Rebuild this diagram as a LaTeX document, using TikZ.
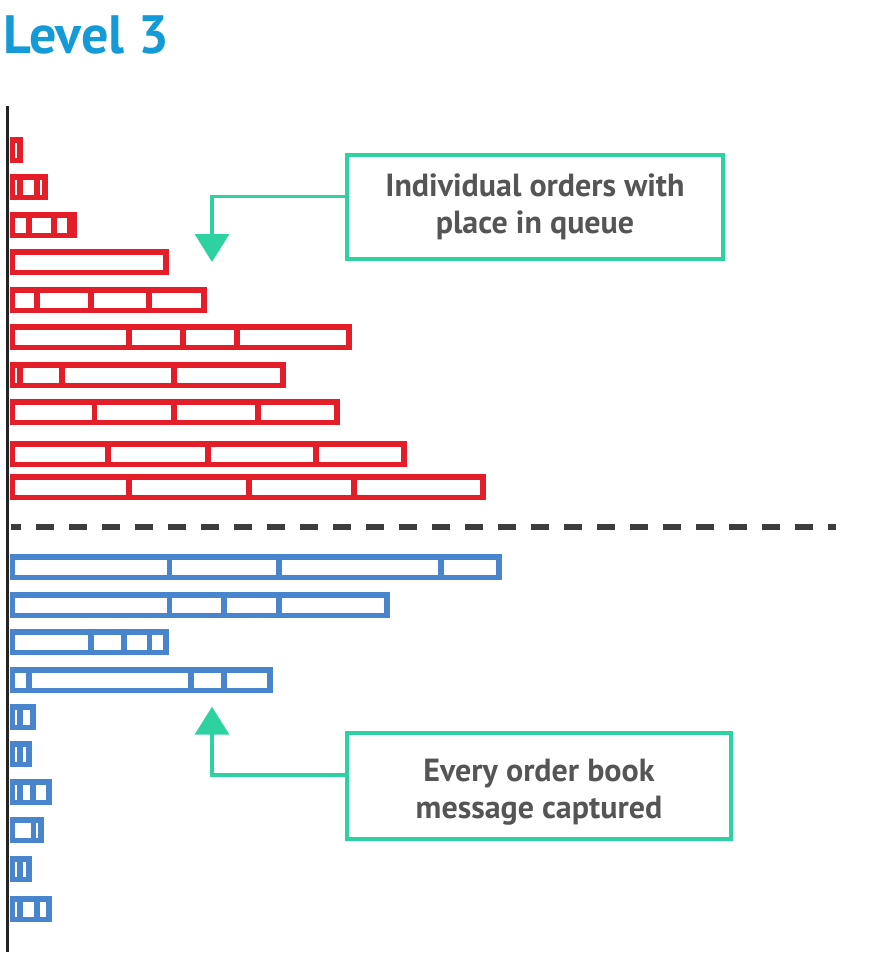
\documentclass[tikz,border=0pt]{standalone}
\usepackage{fontspec}
\setmainfont{PT Sans}
\usepackage{tikz}
\usetikzlibrary{arrows.meta,positioning,calc}
\definecolor{ordred}{RGB}{228,30,40}
\definecolor{ordblue}{RGB}{72,133,204}
\definecolor{callgreen}{RGB}{46,210,160}
\definecolor{txtgray}{RGB}{85,85,85}
\definecolor{titleblue}{RGB}{20,155,215}
\definecolor{axisdark}{RGB}{35,35,35}
\definecolor{dashgray}{RGB}{60,60,60}
\begin{document}
\begin{tikzpicture}
    [
      x=1pt, y=-1pt,
      ask cell/.style={draw=ordred, line width=5.5pt},
      bid cell/.style={draw=ordblue, line width=5.5pt},
      callout/.style={draw=callgreen, line width=4pt, align=center, text=txtgray,
        font=\bfseries\fontsize{32}{37.5}\selectfont},
      link/.style={draw=callgreen, line width=3.5pt, -{Triangle[width=34pt,length=28pt]}}
    ]
    \useasboundingbox (0,0) rectangle (870,969);
    \node (title) [anchor=base west, inner sep=0pt, text=titleblue,
      font=\bfseries\fontsize{54}{60}\selectfont] at (3,53.3) {Level 3};
    \draw [axisdark, line width=3.3pt] (7.7,106) -- (7.7,952);
    \foreach \t/\cells in {137/{12.7/20.2}, 174/{12.7/20,20/37.2,37.2/45},
        212/{12.7/29,29/54.2,54.2/69.5,69.5/74}, 249/{12.7/166},
        287/{12.7/37,37/91,91/149,149/204}, 324/{12.7/129,129/183,183/237,237/349},
        362/{12.7/20,20/62,62/174,174/283}, 399/{12.7/94.7,94.7/174,174/258,258/337},
        441/{12.7/108,108/208,208/316,316/404}, 474/{12.7/129,129/249,249/354,354/483}}
      \foreach \a/\b in \cells
        \draw [ask cell] (\a,\t+2.75) rectangle (\b,\t+23.25);
    \draw [dashgray, line width=6pt, dash pattern=on 18pt off 15pt, dash phase=8pt]
      (11,526.5) -- (836,526.5);
    \foreach \t/\cells in {554/{12.7/169.7,169.7/279,279/441,441/499},
        592/{12.7/169.7,169.7/224,224/279,279/387}, 629/{12.7/91,91/124,124/149.5,149.5/166},
        667/{12.7/29,29/191,191/224,224/270}, 704/{12.7/20,20/33}, 741/{12.7/20,20/29},
        779/{12.7/20,20/33,33/49}, 817/{12.7/33.3,33.3/40.8}, 856/{12.7/20,20/29},
        896/{12.7/20,20/37.2,37.2/49}}
      \foreach \a/\b in \cells
        \draw [bid cell] (\a,\t+2.75) rectangle (\b,\t+23.25);
    \node (queue) [callout, minimum width=376pt, minimum height=104pt] at (535,206.7)
      {Individual orders with\\place in queue};
    \node (every) [callout, minimum width=384pt, minimum height=106pt] at (539,785.7)
      {\rule{0pt}{35pt}Every order book\\message captured};
    \coordinate (queue bend) at (212,196.7);
    \coordinate (queue tip) at (212,262);
    \coordinate (every bend) at (212,775);
    \coordinate (every tip) at (212,706.7);
    \draw [link] (queue.west |- queue bend) -- (queue bend) -- (queue tip);
    \draw [link] (every.west |- every bend) -- (every bend) -- (every tip);
\end{tikzpicture}
\end{document}
